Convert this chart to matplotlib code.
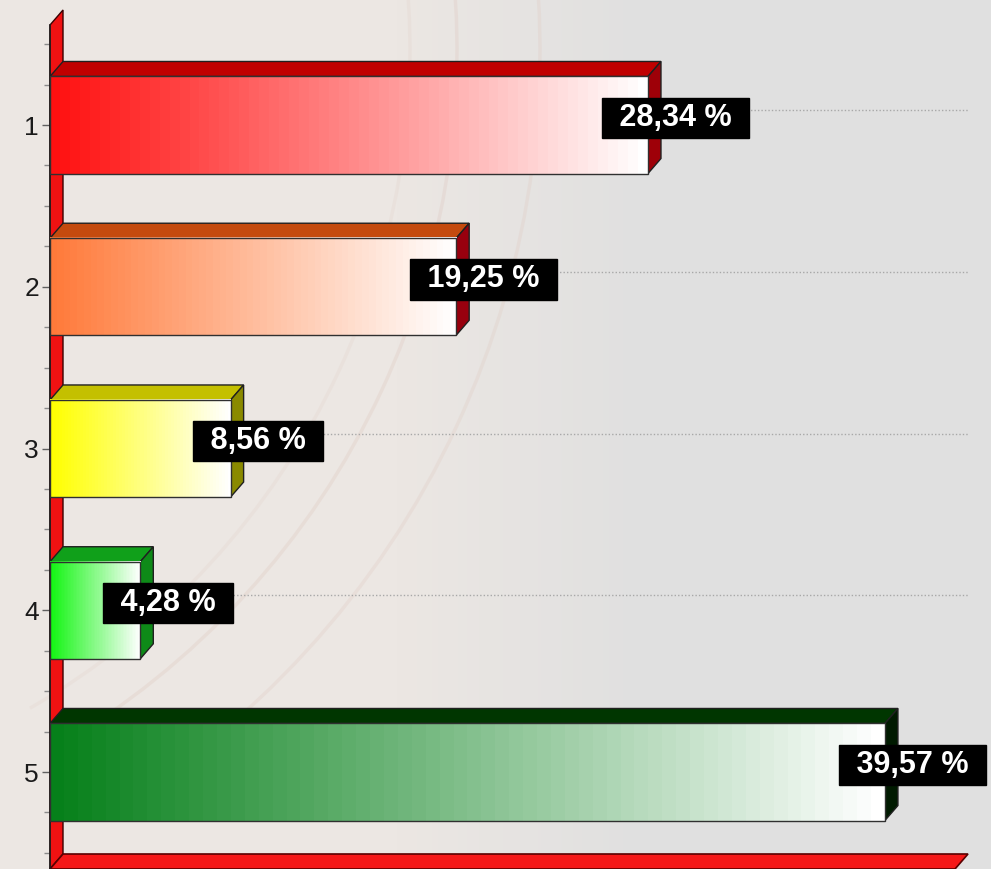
import numpy as np
import matplotlib
matplotlib.use("Agg")
import matplotlib.pyplot as plt
from matplotlib.patches import Polygon, Arc
from matplotlib.colors import to_rgb

# ---------------- data ----------------
categories = [1, 2, 3, 4, 5]
values = [28.34, 19.25, 8.56, 4.28, 39.57]
front_colors = ["#ff1010", "#ff7a3a", "#ffff00", "#14f514", "#06801a"]
top_colors = ["#c00000", "#c44a0e", "#c4c000", "#10a01a", "#003600"]
side_colors = ["#9e0008", "#98000e", "#8a8a00", "#0e8a18", "#001a00"]
tick_labels = ["1", "2", "3", "4", "5"]

W, H, DPI = 991, 869, 100
fig = plt.figure(figsize=(W / DPI, H / DPI), dpi=DPI)

# ---------------- background ----------------
bg = fig.add_axes([0, 0, 1, 1])
bg.set_xlim(0, W)
bg.set_ylim(H, 0)
bg.axis("off")
xs = np.linspace(0, 1, W)
warm = np.array(to_rgb("#ece7e3"))
cool = np.array(to_rgb("#e0e0e0"))
t = np.clip((xs - 0.40) / 0.25, 0, 1)[None, :, None]
img = warm * (1 - t) + cool * t
img = np.repeat(img, 2, axis=0)
bg.imshow(img, extent=(0, W, H, 0), aspect="auto", zorder=0)
# faint decorative arcs
for r, a in [(807, 0.35), (890, 0.3), (760, 0.2)]:
    bg.add_patch(Arc((-350, 50), 2 * r, 2 * r, theta1=-80, theta2=60,
                     color="#e0cbc3", lw=2.5, alpha=a, zorder=1))
bg.set_xlim(0, W)
bg.set_ylim(H, 0)

# ---------------- main axes ----------------
px_per_x = 21.1
px_per_y = 161.75
left_px, top_px = 50, 25
right_px = 955
ax = fig.add_axes([left_px / W, 0, (right_px - left_px) / W, 1 - top_px / H])
ax.patch.set_alpha(0)
xmax = (right_px - left_px) / px_per_x
ytop = 1 - (125 - top_px) / px_per_y
ybot = 1 + (H - 125) / px_per_y

dxd = 13 / px_per_x       # depth offset in data units (x)
dyd = -15 / px_per_y      # depth offset (up)
h = 0.6

# back gridlines
for c in categories:
    ax.plot([0 + dxd, xmax + dxd], [c + dyd, c + dyd], color="#a8a8a8",
            lw=1, ls=(0, (1, 1.5)), zorder=1, clip_on=False)

# left wall
ax.add_patch(Polygon([(0, ytop), (0, ybot), (dxd, ybot + dyd), (dxd, ytop + dyd)],
                     closed=True, facecolor="#f01212", edgecolor="#3a0000",
                     lw=1, zorder=2, clip_on=False))
# floor
ax.add_patch(Polygon([(0, ybot), (xmax, ybot), (xmax + dxd, ybot + dyd), (dxd, ybot + dyd)],
                     closed=True, facecolor="#f51818", edgecolor="#5a0000",
                     lw=1.2, zorder=2, clip_on=False))
ax.plot([0, 0], [ytop, ybot], color="#202020", lw=1.2, zorder=3, clip_on=False)

# bars
for c, v, fc, tc, sc in zip(categories, values, front_colors, top_colors, side_colors):
    yt = c - h / 2
    yb = c + h / 2
    ax.add_patch(Polygon([(0, yt), (v, yt), (v + dxd, yt + dyd), (dxd, yt + dyd)],
                         closed=True, facecolor=tc, edgecolor="#202020", lw=1, zorder=4))
    ax.add_patch(Polygon([(v, yt), (v, yb), (v + dxd, yb + dyd), (v + dxd, yt + dyd)],
                         closed=True, facecolor=sc, edgecolor="#202020", lw=1, zorder=4))
    n = 60
    tt = np.linspace(0, 1, n)[None, :, None]
    base = np.array(to_rgb(fc))
    grad = base * (1 - tt) + np.ones(3) * tt
    ax.imshow(grad, extent=(0, v, yb, yt), aspect="auto", interpolation="nearest",
              zorder=5)
    ax.barh(c, v, height=h, facecolor="none", edgecolor="#303030", lw=1, zorder=6)
    ax.text(v + 1.3, c - 0.045, " " + f"{v:.2f} %".replace(".", ",") + " ",
            ha="center", va="center", color="white", fontsize=22, fontweight="bold",
            family="Liberation Sans", zorder=8,
            bbox=dict(boxstyle="square,pad=0.3", mutation_aspect=0.55,
                      facecolor="black", edgecolor="black"))

# axis styling
for s in ax.spines.values():
    s.set_visible(False)
ax.set_xticks([])
ax.set_yticks(categories)
ax.set_yticklabels(tick_labels, fontsize=19, color="#1a1a1a", family="Liberation Sans")
ax.set_yticks(np.arange(0.5, 5.6, 0.25), minor=True)
ax.tick_params(axis="y", which="major", length=6, width=1, color="#606060", pad=2)
ax.tick_params(axis="y", which="minor", length=4, width=1, color="#8a8a8a")

ax.set_xlim(0, xmax)
ax.set_ylim(ybot, ytop)

fig.savefig("out.png", dpi=DPI)
